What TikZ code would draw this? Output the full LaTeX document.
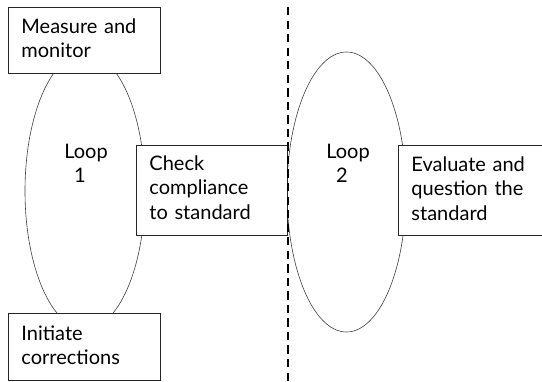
\documentclass[tikz,border=0pt]{standalone}
\usepackage{fontspec}
\setmainfont{Lato}
\usetikzlibrary{shapes.geometric}
\tikzset{
  txt/.style={font=\fontsize{20}{24.5}\selectfont},
  stepbox/.style={txt, draw=black!85, fill=white, line width=0.9pt, rectangle,
    anchor=north west, inner xsep=13pt, inner ysep=0pt, align=left},
  loopshape/.style={ellipse, draw=black!75, line width=0.6pt, inner sep=0pt},
  looptext/.style={txt, align=center, anchor=base, inner sep=0pt},
  sepline/.style={line width=2pt, dash pattern=on 8.3pt off 5.24pt}
}
\begin{document}
\begin{tikzpicture}[x=1pt,y=-1pt]
\useasboundingbox (0,0) rectangle (542,382);
\fill[white] (0,0) rectangle (542,382);
% loops
\node[loopshape, minimum width=120pt, minimum height=276pt] (loopA) at (85,191) {};
\node[loopshape, minimum width=119pt, minimum height=280pt] (loopB) at (346.5,192) {};
\node[looptext] (loopAtxt) at (86,183) {Loop\\1\hspace*{12pt}};
\node[looptext] (loopBtxt) at (348,183) {Loop\\2\hspace*{12pt}};
% boxes
\node[stepbox, text width=126pt, text height=26pt, text depth=40pt] (measure) at (8,7) {Measure and\\monitor};
\node[stepbox, text width=126pt, text height=27pt, text depth=40pt] (initiate) at (8,313) {Initiate\\corrections};
\node[stepbox, text width=125pt, text height=25pt, text depth=65pt] (check) at (136,145) {Check\\compliance\\to standard};
\node[stepbox, text width=124pt, text height=26pt, text depth=64pt] (evaluate) at (398,145) {Evaluate and\\question the\\standard};
% separator
\coordinate (sepTop) at (287.5,7);
\coordinate (sepBot) at (287.5,382);
\draw[sepline] (sepTop) -- (sepBot);
\end{tikzpicture}
\end{document}
